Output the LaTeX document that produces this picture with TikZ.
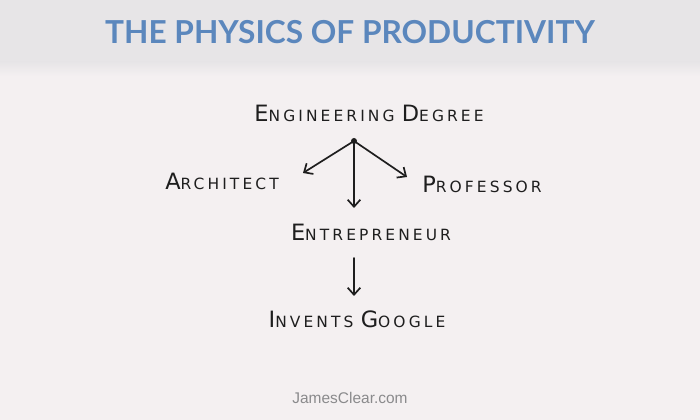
\documentclass[tikz,border=0pt]{standalone}
\usepackage{fontspec}
\setmainfont{Liberation Sans}
\newfontfamily\titlefont{Lato}
\newfontfamily\handfont[LetterSpace=20]{DejaVu Sans}
\usetikzlibrary{arrows.meta, positioning, calc}
\definecolor{pagebg}{RGB}{244, 240, 241}
\definecolor{bandgray}{RGB}{231, 229, 231}
\definecolor{titleblue}{RGB}{91, 135, 189}
\definecolor{inkgray}{RGB}{30, 30, 30}
\definecolor{sitegray}{RGB}{138, 138, 140}
% big first letter, small rest
\newcommand{\hw}[2]{{\fontsize{16}{18}\selectfont #1}{\fontsize{11}{13}\selectfont #2}}

\begin{document}
\begin{tikzpicture}[
        x=0.025cm, y=-0.025cm,
        label/.style={font=\handfont\color{inkgray}, inner sep=0pt},
        arrow/.style={-{Straight Barb[length=5pt, width=9pt]}, line width=1.2pt, inkgray, line cap=round},
    ]
        % Background
        \fill[pagebg] (0,0) rectangle (700,420);
        \fill[bandgray] (0,0) rectangle (700,62);
        \shade[top color=bandgray, bottom color=pagebg] (0,62) rectangle (700,76);

        % Title
        \node[font=\titlefont\bfseries\fontsize{22.5}{26}\selectfont, text=titleblue] (title) at (350,32) {THE PHYSICS OF PRODUCTIVITY};

        % Row 1: degree
        \node[label] (degree) at (369,113) {\hw{E}{NGINEERING} \hw{D}{EGREE}};
        \fill[inkgray] (354,141) circle (3) coordinate (hub);

        % Row 2: choices
        \node[label] (architect) at (222,181) {\hw{A}{RCHITECT}};
        \node[label] (professor) at (482,184) {\hw{P}{ROFESSOR}};
        \node[label] (entrepreneur) at (371,232) {\hw{E}{NTREPRENEUR}};

        % Row 3: outcome
        \node[label] (google) at (357,319) {\hw{I}{NVENTS} \hw{G}{OOGLE}};

        % Arrow ends
        \coordinate (toarch) at (303,173);
        \coordinate (toprof) at (407,177);
        \coordinate (toentr) at (354,208);
        \coordinate (fromentr) at (354,258);
        \coordinate (togoogle) at (354,296);

        % Arrows
        \draw[arrow] (hub) -- (toarch);
        \draw[arrow] (hub) -- (toprof);
        \draw[arrow] (hub) -- (toentr);
        \draw[arrow] (fromentr) -- (togoogle);

        % Footer
        \node[font=\fontsize{11}{13}\selectfont, text=sitegray] (site) at (350,398) {JamesClear.com};
    \end{tikzpicture}
\end{document}
